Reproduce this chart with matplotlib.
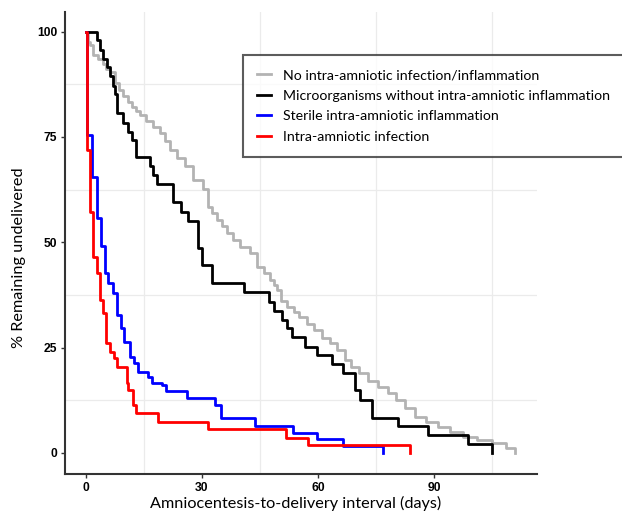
import matplotlib
matplotlib.use("Agg")
import matplotlib.pyplot as plt
from matplotlib.ticker import MultipleLocator, FixedLocator

# step curves: (day, % remaining), drawn as steps-post
none_t = [0, 0.5, 1.0, 1.9, 3.0, 4.4, 5.3, 6.2, 7.5, 8.5, 9.6, 10.8, 11.9, 13.0, 14.0, 15.5,
          17.3, 19.1, 20.5, 21.7, 23.5, 25.6, 27.6, 30.2, 31.5, 32.6, 33.8, 35.2, 36.4, 38.0,
          39.8, 42.4, 44.2, 46.0, 47.5, 48.5, 49.5, 50.5, 52.0, 53.7, 55.0, 57.0, 59.0, 61.0,
          63.0, 65.0, 67.0, 68.5, 70.5, 73.0, 75.5, 78.0, 80.0, 82.5, 85.0, 88.0, 91.0, 94.0,
          97.5, 101.0, 105.0, 108.5, 110.9]
none_s = [100, 97.5, 96.9, 94.5, 93.4, 92.2, 91.2, 90.5, 87.9, 86.2, 84.6, 83.4, 82.2, 81.2,
          80.3, 78.8, 77.4, 76.0, 74.0, 72.0, 70.0, 68.0, 64.8, 62.7, 58.4, 57.0, 55.3, 53.8,
          52.3, 50.6, 48.9, 47.5, 44.2, 42.6, 41.1, 39.9, 38.7, 36.0, 34.7, 33.5, 32.3, 30.5,
          29.2, 27.3, 26.0, 24.5, 22.1, 20.5, 19.0, 17.0, 15.7, 14.3, 12.5, 10.7, 8.6, 7.4,
          6.2, 5.0, 3.8, 3.0, 2.4, 1.2, 0]

micro_t = [0, 2.8, 3.6, 4.5, 5.4, 6.2, 7.0, 7.6, 8.0, 9.6, 11.0, 12.0, 12.9, 16.5, 17.4, 18.3,
           22.5, 24.7, 26.4, 28.9, 30.0, 32.5, 40.8, 47.3, 48.6, 50.6, 52.0, 53.2, 56.6, 59.7,
           63.6, 66.4, 69.5, 70.8, 73.9, 80.6, 88.4, 98.7, 104.9]
micro_s = [100, 97.9, 95.7, 93.6, 91.5, 89.4, 87.2, 85.1, 80.7, 78.3, 76.2, 74.3, 70.3, 68.0,
           66.0, 63.9, 59.6, 57.2, 55.1, 48.7, 44.7, 40.4, 38.3, 35.9, 33.7, 31.6, 29.7, 27.6,
           25.2, 23.3, 21.1, 19.0, 15.0, 12.6, 8.3, 6.4, 4.3, 2.1, 0]

sterile_t = [0, 0.3, 1.5, 2.8, 4.0, 4.9, 5.7, 7.0, 8.0, 9.0, 9.8, 11.4, 12.3, 13.5, 16.0,
             17.0, 19.6, 20.7, 21.7, 26.0, 33.3, 35.0, 43.7, 53.5, 59.7, 66.4, 76.7]
sterile_s = [100, 75.5, 65.6, 55.7, 49.0, 42.8, 40.4, 38.0, 32.8, 29.7, 26.4, 22.8, 21.4, 19.2,
             18.1, 16.6, 16.2, 14.7, 14.7, 13.1, 11.4, 8.3, 6.4, 4.8, 3.3, 1.7, 0]

infect_t = [0, 0.4, 1.0, 1.8, 2.8, 3.7, 4.5, 5.2, 6.1, 7.2, 8.0, 10.6, 11.0, 12.1, 12.9,
            18.6, 31.5, 51.7, 57.4, 83.7]
infect_s = [100, 72.0, 57.2, 46.6, 42.8, 36.3, 33.2, 26.1, 24.0, 22.6, 20.4, 16.6, 15.0, 11.4,
            9.5, 7.4, 5.6, 3.6, 1.8, 0]

labels = ["No intra-amniotic infection/inflammation",
          "Microorganisms without intra-amniotic inflammation",
          "Sterile intra-amniotic inflammation",
          "Intra-amniotic infection"]
colors = ["#b3b3b3", "#000000", "#0000ff", "#ff0000"]

fig = plt.figure(figsize=(6.22, 5.13), dpi=100)
ax = fig.add_axes([0.1045, 0.076, 0.7585, 0.901])

series = [(none_t, none_s), (micro_t, micro_s), (sterile_t, sterile_s), (infect_t, infect_s)]
for (t, s), lab, c in zip(series, labels, colors):
    ax.plot(t, s, drawstyle="steps-post", color=c, lw=2.0, label=lab)

ax.set_xlim(-5.4, 116.5)
ax.set_ylim(-5.0, 104.7)
ax.xaxis.set_major_locator(MultipleLocator(30))
ax.xaxis.set_minor_locator(FixedLocator([15, 45, 75, 105]))
ax.yaxis.set_major_locator(MultipleLocator(25))
ax.yaxis.set_minor_locator(FixedLocator([12.5, 37.5, 62.5, 87.5]))
ax.grid(which="minor", color="#ebebeb", lw=0.9)
ax.grid(which="major", visible=False)
ax.tick_params(which="minor", length=0)
ax.tick_params(which="major", length=3, width=1, color="#333333", pad=2.5)
for lab in ax.get_xticklabels() + ax.get_yticklabels():
    lab.set_fontfamily("Liberation Sans")
    lab.set_fontweight("bold")
    lab.set_fontsize(8.7)

for sp in ["top", "right"]:
    ax.spines[sp].set_visible(False)
for sp in ["left", "bottom"]:
    ax.spines[sp].set_color("#333333")
    ax.spines[sp].set_linewidth(1.5)

ax.set_xlabel("Amniocentesis-to-delivery interval (days)", fontfamily="Lato", fontsize=11.7)
ax.set_ylabel("% Remaining undelivered", fontfamily="Lato", fontsize=11.7)
ax.xaxis.set_label_coords(0.488, -0.063)
ax.yaxis.set_label_coords(-0.098, 0.469)
ax.xaxis.label.set_va("center")
ax.yaxis.label.set_va("center")

leg = fig.legend(loc="upper left", bbox_to_anchor=(243 / 622, 1 - 55 / 513),
                 prop={"family": "Lato", "size": 10.2}, frameon=True, fancybox=False,
                 handlelength=1.0, handletextpad=0.8, borderpad=1.0, labelspacing=0.6,
                 borderaxespad=0)
leg.get_frame().set_edgecolor("#333333")
leg.get_frame().set_linewidth(1.5)

fig.savefig("out.png", dpi=100)
